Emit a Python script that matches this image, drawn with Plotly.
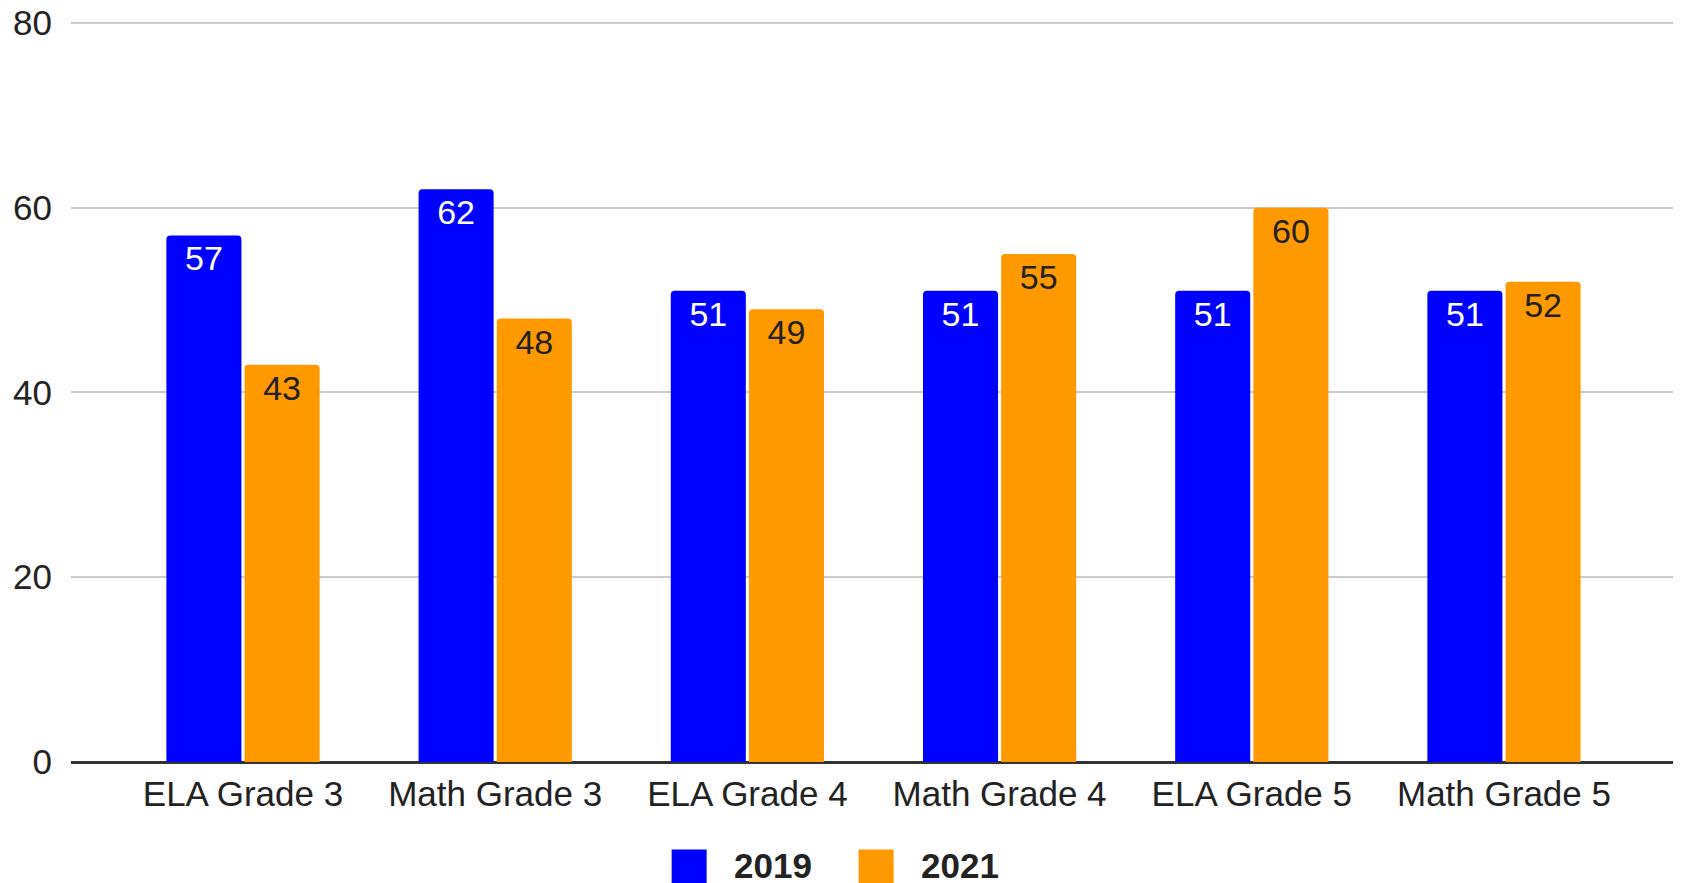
import plotly.graph_objects as go

categories = ["ELA Grade 3", "Math Grade 3", "ELA Grade 4", "Math Grade 4", "ELA Grade 5", "Math Grade 5"]
values_2019 = [57, 62, 51, 51, 51, 51]
values_2021 = [43, 48, 49, 55, 60, 52]
series_names = ["2019", "2021"]
series_colors = ["#0000ff", "#ff9900"]
label_colors = ["#ffffff", "#222222"]
y_ticks = [0, 20, 40, 60, 80]

FONT = "Arial, Liberation Sans, sans-serif"

fig = go.Figure()
for name, vals, col, lcol in zip(series_names, [values_2019, values_2021], series_colors, label_colors):
    fig.add_trace(go.Bar(
        x=categories, y=vals, name=name,
        marker=dict(color=col, line=dict(width=0)),
        text=[str(v) for v in vals],
        textposition="inside", insidetextanchor="end",
        textangle=0,
        insidetextfont=dict(family=FONT, size=34, color=lcol),
        showlegend=False,
    ))

fig.update_layout(
    width=1673, height=875,
    margin=dict(l=63, r=4, t=11, b=121),
    paper_bgcolor="white", plot_bgcolor="white",
    barmode="group", bargap=0.38, bargroupgap=0.04,
    barcornerradius=4,
    font=dict(family=FONT, size=35, color="#222222"),
    uniformtext=dict(minsize=10, mode="show"),
)
fig.update_xaxes(
    range=[-0.682, 5.686], showgrid=False, showline=False, ticks="",
    tickfont=dict(family=FONT, size=35, color="#222222"),
    ticklabelstandoff=8, automargin=False,
)
fig.update_yaxes(
    range=[0, 80.43], tickvals=y_ticks, showgrid=True, gridcolor="#cccccc", gridwidth=2,
    zeroline=True, zerolinecolor="#333333", zerolinewidth=3,
    showline=False, ticks="",
    tickfont=dict(family=FONT, size=35, color="#222222"),
    ticklabelstandoff=18, ticklabeloverflow="allow", automargin=False,
)

# Manual legend (large square swatches like the reference)
legend_items = [("2019", series_colors[0], 0.374, 0.4113), ("2021", series_colors[1], 0.4904, 0.5283)]
for name, col, sx, tx in legend_items:
    fig.add_shape(type="rect", xref="paper", yref="paper",
                  x0=sx, x1=sx + 0.0218, y0=-0.1177, y1=-0.168,
                  fillcolor=col, line=dict(width=0))
    fig.add_annotation(xref="paper", yref="paper", x=tx, y=-0.139, text=f"<b>{name}</b>",
                       showarrow=False, xanchor="left", yanchor="middle",
                       font=dict(family=FONT, size=35, color="#222222"))

fig.write_html("out.html")
